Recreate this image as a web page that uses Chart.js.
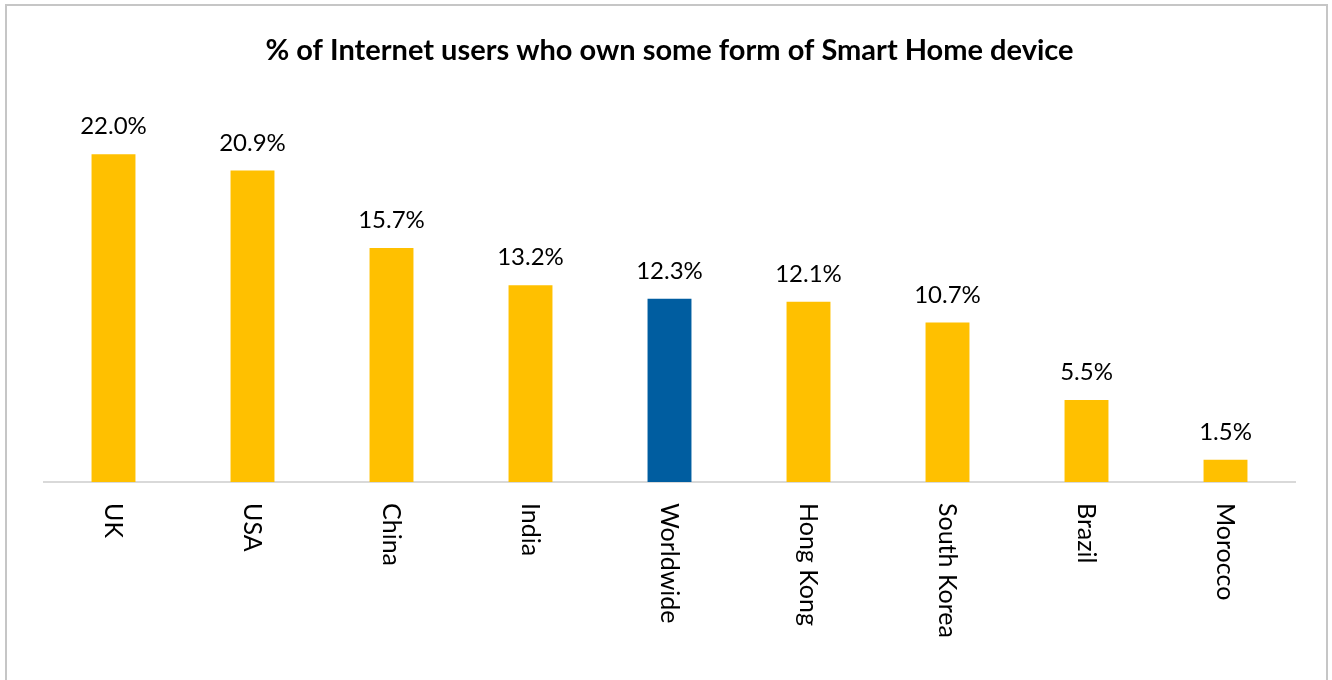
<!DOCTYPE html>
<html>
<head>
<meta charset="utf-8">
<script src="https://cdn.jsdelivr.net/npm/chart.js@4"></script>
<style>
  html, body { margin: 0; padding: 0; background: #fff; overflow: hidden; }
  #wrap { position: relative; width: 1332px; height: 680px; }
  #frame { position: absolute; left: 5px; top: 4px; width: 1323px; height: 720px;
           border: 2px solid #c6c6c6; pointer-events: none; box-sizing: border-box; }
</style>
</head>
<body>
<div id="wrap">
  <canvas id="chart" width="1332" height="680"></canvas>
  <div id="frame"></div>
</div>
<script>
var categories = ['UK', 'USA', 'China', 'India', 'Worldwide', 'Hong Kong', 'South Korea', 'Brazil', 'Morocco'];
var shares = [22.0, 20.9, 15.7, 13.2, 12.3, 12.1, 10.7, 5.5, 1.5];
var highlight = 'Worldwide';

var FONT = 'Lato, "Noto Sans", sans-serif';

// value labels above the bars and rotated country names under the axis
var labelPlugin = {
  id: 'barLabels',
  afterDatasetsDraw: function(chart){
    var ctx = chart.ctx;
    var meta = chart.getDatasetMeta(0);
    var xScale = chart.scales.x;
    var base = chart.chartArea.bottom;
    ctx.save();
    ctx.fillStyle = '#000';
    meta.data.forEach(function(bar, i){
      ctx.font = '24px ' + FONT;
      ctx.textAlign = 'center';
      ctx.textBaseline = 'alphabetic';
      ctx.fillText(shares[i].toFixed(1) + '%', bar.x, bar.y - 20);
      var x = xScale.getPixelForValue(i);
      ctx.save();
      ctx.font = '25px ' + FONT;
      ctx.translate(x, base + 21);
      ctx.rotate(Math.PI / 2);
      ctx.textAlign = 'left';
      ctx.textBaseline = 'middle';
      ctx.fillText(categories[i], 0, 0);
      ctx.restore();
    });
    ctx.restore();
  }
};

new Chart(document.getElementById('chart'), {
  type: 'bar',
  data: {
    labels: categories,
    datasets: [{
      data: shares,
      backgroundColor: categories.map(function(c){ return c === highlight ? '#005DA0' : '#FFC000'; }),
      borderWidth: 0,
      categoryPercentage: 1,
      barPercentage: 0.316
    }]
  },
  options: {
    responsive: false,
    animation: false,
    layout: { padding: { left: 44, right: 37, top: 0, bottom: 190 } },
    plugins: {
      legend: { display: false },
      tooltip: { enabled: false },
      title: {
        display: true,
        text: '% of Internet users who own some form of Smart Home device',
        color: '#000',
        font: { family: FONT, size: 29, weight: 'bold', lineHeight: 1.2 },
        padding: { top: 33, bottom: 41.7 }
      }
    },
    scales: {
      x: {
        grid: { display: false },
        border: { color: '#d9d9d9', width: 2 },
        ticks: { display: false }
      },
      y: {
        display: false,
        min: 0,
        max: 25
      }
    }
  },
  plugins: [labelPlugin]
});
</script>
</body>
</html>
